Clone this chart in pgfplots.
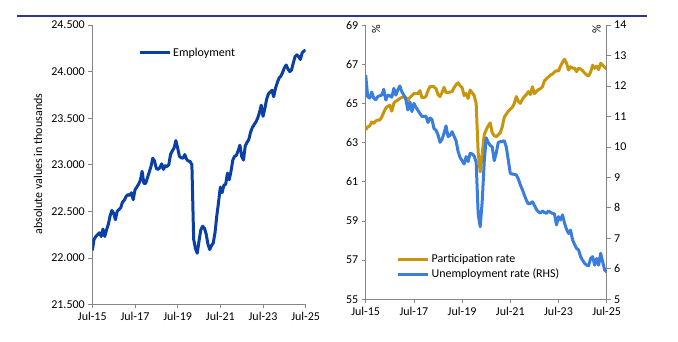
\documentclass[border=0pt]{standalone}
\usepackage{fontspec}
\setmainfont{Carlito}
\usepackage{pgfplots}
\pgfplotsset{compat=1.18}
\definecolor{emp}{HTML}{0A3FA6}
\definecolor{part}{HTML}{C8960C}
\definecolor{unemp}{HTML}{3A7DDC}
\definecolor{navy}{HTML}{2B3990}
\definecolor{axgray}{HTML}{868686}
\pgfplotsset{
  base/.style={
    scale only axis,
    font=\fontsize{12}{14}\selectfont,
    xmin=0, xmax=120,
    xtick={0,24,48,72,96,120},
    xticklabels={Jul-15,Jul-17,Jul-19,Jul-21,Jul-23,Jul-25},
    axis line style={axgray, line width=0.8pt},
    tick style={axgray, line width=0.8pt},
    major tick length=4pt,
    tick align=outside,
    /pgf/number format/assume math mode=true,
    scaled y ticks=false,
    legend image code/.code={\draw[##1] (0pt,0pt) -- (30pt,0pt);},
    legend cell align=left,
  },
  ser/.style={line width=3pt, line join=round, mark=none},
}
\begin{document}
\begin{tikzpicture}
\useasboundingbox (0,0) rectangle (678pt,342pt);
\draw[navy, line width=1.2pt] (17pt,326pt) -- (647pt,326pt);
% ---------- Left panel ----------
\begin{axis}[base,
  at={(92.3pt,37.5pt)}, anchor=south west,
  width=213.4pt, height=279.5pt,
  axis x line*=bottom, axis y line*=left,
  ymin=21500, ymax=24500, ytick={21500,22000,...,24500},
  /pgf/number format/1000 sep={.},
  ylabel={absolute values in thousands},
  ylabel style={at={(axis description cs:-0.254,0.503)}, anchor=center},
  legend style={draw=none, fill=none, at={(axis description cs:0.2,0.9)}, anchor=west},
]
\addplot[ser, emp] coordinates {
(0,22080)(1,22200)(2,22230)(3,22250)(4,22270)(5,22230)(6,22310)(7,22230)(8,22300)(9,22360)
(10,22450)(11,22510)(12,22480)(13,22410)(14,22500)(15,22520)(16,22540)(17,22600)(18,22620)(19,22660)
(20,22680)(21,22670)(22,22700)(23,22625)(24,22730)(25,22760)(26,22790)(27,22830)(28,22930)(29,22800)
(30,22800)(31,22860)(32,22920)(33,22980)(34,23070)(35,23040)(36,22960)(37,22950)(38,22970)(39,23010)
(40,22950)(41,22990)(42,22980)(43,23000)(44,23110)(45,23150)(46,23180)(47,23260)(48,23180)(49,23090)
(50,23075)(51,23070)(52,23110)(53,23060)(54,23040)(55,23035)(56,23000)(57,22200)(58,22100)(59,22050)
(60,22180)(61,22300)(62,22340)(63,22320)(64,22260)(65,22150)(66,22090)(67,22130)(68,22160)(69,22270)
(70,22450)(71,22600)(72,22760)(73,22700)(74,22780)(75,22790)(76,22910)(77,22840)(78,22930)(79,23050)
(80,23090)(81,23100)(82,23150)(83,23210)(84,23090)(85,23050)(86,23200)(87,23240)(88,23270)(89,23350)
(90,23400)(91,23430)(92,23460)(93,23500)(94,23560)(95,23640)(96,23520)(97,23600)(98,23700)(99,23760)
(100,23780)(101,23800)(102,23730)(103,23820)(104,23880)(105,23930)(106,23950)(107,23990)(108,24040)(109,24070)
(110,24030)(111,24000)(112,24015)(113,24090)(114,24160)(115,24180)(116,24160)(117,24130)(118,24200)(119,24220)
(120,24230)};
\addlegendentry{Employment}
\end{axis}
% ---------- Right panel, left axis ----------
\begin{axis}[base,
  at={(365.7pt,42.7pt)}, anchor=south west,
  width=241pt, height=274.3pt,
  axis x line*=bottom, axis y line*=left,
  ymin=55, ymax=69, ytick={55,57,...,69},
]
\addplot[ser, part] coordinates {
(0,63.65)(1,63.8)(2,63.85)(3,64.05)(4,63.98)(5,64.1)(6,64.15)(7,64.15)(8,64.3)(9,64.55)
(10,64.75)(11,64.85)(12,64.9)(13,64.6)(14,65.0)(15,65.12)(16,65.17)(17,65.25)(18,65.3)(19,65.35)
(20,65.3)(21,65.17)(22,65.3)(23,65.4)(24,65.5)(25,65.5)(26,65.5)(27,65.65)(28,65.3)(29,65.3)
(30,65.35)(31,65.65)(32,65.85)(33,65.85)(34,65.85)(35,65.75)(36,65.45)(37,65.35)(38,65.55)(39,65.82)
(40,65.55)(41,65.55)(42,65.58)(43,65.6)(44,65.8)(45,65.95)(46,66.05)(47,65.9)(48,65.8)(49,65.4)
(50,65.5)(51,65.25)(52,65.68)(53,65.55)(54,65.4)(55,65.0)(56,62.5)(57,61.5)(58,62.4)(59,63.4)
(60,63.65)(61,63.85)(62,64.0)(63,63.5)(64,63.35)(65,63.3)(66,63.4)(67,63.5)(68,63.8)(69,64.3)
(70,64.45)(71,64.6)(72,64.7)(73,64.8)(74,65.0)(75,65.35)(76,65.1)(77,65.0)(78,65.2)(79,65.35)
(80,65.45)(81,65.6)(82,65.45)(83,65.85)(84,65.5)(85,65.6)(86,65.7)(87,65.75)(88,65.85)(89,66.15)
(90,66.25)(91,66.35)(92,66.45)(93,66.5)(94,66.6)(95,66.67)(96,66.65)(97,66.9)(98,67.1)(99,67.25)
(100,67.05)(101,66.7)(102,66.87)(103,66.8)(104,66.8)(105,66.62)(106,66.8)(107,66.75)(108,66.67)(109,66.55)
(110,66.45)(111,66.4)(112,66.6)(113,66.95)(114,66.79)(115,66.9)(116,66.72)(117,67.05)(118,66.95)(119,66.85)
(120,66.75)};
\node[rotate=90, anchor=center] at (rel axis cs:0.043,0.985) {\%};
\end{axis}
% ---------- Right panel, right axis ----------
\begin{axis}[base,
  at={(365.7pt,42.7pt)}, anchor=south west,
  width=241pt, height=274.3pt,
  hide x axis, axis y line*=right,
  ymin=5, ymax=14, ytick={5,6,...,14},
  legend style={draw=none, fill=none, at={(axis description cs:0.115,0.119)}, anchor=west, row sep=1pt},
]
\addlegendimage{ser, part}
\addlegendentry{Participation rate}
\addplot[ser, unemp] coordinates {
(0,12.35)(1,11.65)(2,11.6)(3,11.8)(4,11.6)(5,11.55)(6,11.65)(7,11.68)(8,11.7)(9,11.89)
(10,11.54)(11,11.7)(12,11.68)(13,11.63)(14,11.92)(15,11.7)(16,11.87)(17,12.0)(18,11.81)(19,11.7)
(20,11.55)(21,11.21)(22,11.48)(23,11.16)(24,11.43)(25,11.3)(26,11.2)(27,11.1)(28,11.0)(29,11.0)
(30,11.01)(31,10.8)(32,10.95)(33,10.9)(34,10.6)(35,10.55)(36,10.4)(37,10.15)(38,10.25)(39,10.45)
(40,10.69)(41,10.34)(42,10.38)(43,10.5)(44,10.35)(45,10.2)(46,9.85)(47,9.65)(48,9.55)(49,9.44)
(50,9.68)(51,9.52)(52,9.79)(53,9.77)(54,9.7)(55,9.5)(56,7.8)(57,7.38)(58,8.2)(59,9.5)
(60,10.3)(61,10.15)(62,10.05)(63,10.0)(64,9.55)(65,9.8)(66,10.15)(67,10.17)(68,10.18)(69,10.2)
(70,10.0)(71,9.57)(72,9.13)(73,9.11)(74,9.1)(75,9.08)(76,8.95)(77,8.75)(78,8.6)(79,8.42)
(80,8.25)(81,8.13)(82,8.15)(83,8.2)(84,8.08)(85,7.95)(86,7.87)(87,7.83)(88,7.9)(89,7.85)
(90,7.82)(91,7.9)(92,7.85)(93,7.82)(94,7.8)(95,7.44)(96,7.71)(97,7.6)(98,7.77)(99,7.5)
(100,7.3)(101,7.16)(102,7.27)(103,6.95)(104,6.8)(105,6.67)(106,6.62)(107,6.4)(108,6.28)(109,6.18)
(110,6.12)(111,6.1)(112,6.34)(113,6.4)(114,6.12)(115,6.34)(116,6.12)(117,6.51)(118,6.23)(119,5.96)
(120,5.9)};
\addlegendentry{Unemployment rate (RHS)}
\node[rotate=90, anchor=center] at (rel axis cs:0.958,0.985) {\%};
\end{axis}
\end{tikzpicture}
\end{document}
